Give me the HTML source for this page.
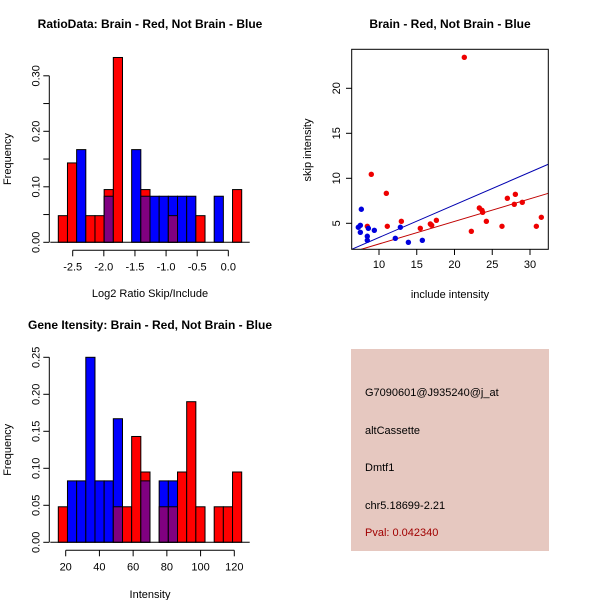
<!DOCTYPE html>
<html><head><meta charset="utf-8"><style>
body{margin:0;background:#fff}
svg{display:block;font-family:"Liberation Sans",sans-serif}
</style></head><body>
<svg id="c" width="600" height="600" xmlns="http://www.w3.org/2000/svg">
<rect width="600" height="600" fill="#fff"/>
<text x="150" y="28" font-size="12" font-weight="bold" text-anchor="middle">RatioData: Brain - Red, Not Brain - Blue</text>
<text x="450" y="28" font-size="12" font-weight="bold" text-anchor="middle">Brain - Red, Not Brain - Blue</text>
<text x="150" y="329" font-size="12" font-weight="bold" text-anchor="middle">Gene Itensity: Brain - Red, Not Brain - Blue</text>
<g>
<rect x="351" y="349" width="198" height="202" fill="#e6c8c0"/>
<text x="365" y="396" font-size="11">G7090601@J935240@j_at</text>
<text x="365" y="434" font-size="11">altCassette</text>
<text x="365" y="471" font-size="11">Dmtf1</text>
<text x="365" y="509" font-size="11">chr5.18699-2.21</text>
<text x="365" y="536" font-size="11" fill="#a00000">Pval: 0.042340</text>
</g>
</svg>
<script>
const ratioRed=[0.048,0.143,0,0.048,0.048,0.095,0.333,0,0,0.095,0,0,0.048,0,0,0.048,0,0,0,0.095];
const ratioBlue=[0,0,0.167,0,0,0.083,0,0,0.167,0.083,0.083,0.083,0.083,0.083,0.083,0,0,0.083,0,0];
const ratioXTicks=[-2.5,-2.0,-1.5,-1.0,-0.5,0.0];
const ratioYTicks=[0,0.05,0.10,0.15,0.20,0.25,0.30];
const intRed=[0.048,0,0,0,0,0,0.048,0.048,0.143,0.095,0,0.048,0.048,0.095,0.190,0.048,0,0.048,0.048,0.095];
const intBlue=[0,0.083,0.083,0.25,0.083,0.083,0.167,0,0,0.083,0,0.083,0.083,0,0,0,0,0,0,0];
const intXTicks=[20,40,60,80,100,120];
const intYTicks=[0,0.05,0.10,0.15,0.20,0.25];
const redX=[21.30,8.98,10.97,11.1,12.96,8.45,15.47,16.8,16.98,17.6,22.23,23.29,23.64,23.73,24.22,26.29,27.0,28.06,27.92,28.98,30.84,31.5];
const redY=[23.44,10.44,8.33,4.67,5.22,4.67,4.44,4.93,4.78,5.33,4.11,6.70,6.44,6.22,5.22,4.67,7.78,8.22,7.11,7.33,4.67,5.67];
const blueX=[7.66,7.26,7.53,7.53,8.45,8.45,8.59,9.38,12.16,12.83,13.89,15.74];
const blueY=[6.56,4.56,4.78,4.0,3.56,3.11,4.44,4.22,3.33,4.56,2.89,3.11];
const blueLine=[[6.38,2.11],[32.43,11.56]];
const redLine=[[7.62,2.11],[32.43,8.33]];
const scXTicks=[10,15,20,25,30];
const scYTicks=[5,10,15,20];

const svg=document.getElementById('c');
const NS='http://www.w3.org/2000/svg';
function mk(tag,at,parent){const e=document.createElementNS(NS,tag);for(const k in at)e.setAttribute(k,at[k]);(parent||svg).appendChild(e);return e;}

function hist(red,blue,xt,yt,o,name){
  const g=mk('g',{});
  
  
  const X=v=>o.x0+(v-o.xv0)*o.xs, Y=v=>o.y0-v*o.ys;
  const n=red.length;
  for(let i=0;i<n;i++){
    const x=o.bx+i*o.bw, r=red[i], b=blue[i], m=Math.min(r,b);
    if(r>b){const e=mk('rect',{x:x,y:Y(r),width:o.bw,height:Y(0)-Y(r),fill:'#ff0000',stroke:'#000','stroke-width':1},g);}
    if(b>r){const e=mk('rect',{x:x,y:Y(b),width:o.bw,height:Y(0)-Y(b),fill:'#0000ff',stroke:'#000','stroke-width':1},g);}
    if(m>0){const e=mk('rect',{x:x,y:Y(m),width:o.bw,height:Y(0)-Y(m),fill:'#800080',stroke:'#000','stroke-width':1},g);}
  }
  mk('line',{x1:o.bx-8,x2:o.bx+n*o.bw+8,y1:Y(0),y2:Y(0),stroke:'#000'},g);
  // y axis
  const ya=o.bx-8;
  mk('line',{x1:ya-1,x2:ya-1,y1:Y(yt[0]),y2:Y(yt[yt.length-1]),stroke:'#000'},g);
  yt.forEach((v,i)=>{const y=Y(v);mk('line',{x1:ya-7,x2:ya-1,y1:y,y2:y,stroke:'#000'},g);
    if(i%o.lblEvery==0){const t=mk('text',{x:0,y:0,'font-size':11,'text-anchor':'middle',transform:`translate(${ya-11},${y}) rotate(-90)`},g);t.textContent=v.toFixed(2);}});
  const xa=Y(0)+8;
  mk('line',{x1:X(xt[0]),x2:X(xt[xt.length-1]),y1:xa,y2:xa,stroke:'#000'},g);
  xt.forEach(v=>{const x=X(v);mk('line',{x1:x,x2:x,y1:xa,y2:xa+6,stroke:'#000'},g);
    const t=mk('text',{x:x,y:xa+20,'font-size':11,'text-anchor':'middle'},g);t.textContent=o.fmt(v);});
  const xl=mk('text',{x:150,y:o.xlY,'font-size':11,'text-anchor':'middle'},g);xl.textContent=o.xlabel;
  const yl=mk('text',{x:0,y:0,'font-size':11,'text-anchor':'middle',transform:`translate(11,${(Y(0)+Y(yt[yt.length-1]))/2}) rotate(-90)`},g);yl.textContent='Frequency';
}
hist(ratioRed,ratioBlue,ratioXTicks,ratioYTicks,{x0:72.7,xv0:-2.5,xs:62.25,y0:242.3,ys:555,bx:58.3,bw:9.17,lblEvery:2,fmt:v=>v.toFixed(1),xlabel:'Log2 Ratio Skip/Include',xlY:297},'ratio-histogram');
hist(intRed,intBlue,intXTicks,intYTicks,{x0:65.7,xv0:20,xs:1.686,y0:542.3,ys:740,bx:58.3,bw:9.17,lblEvery:1,fmt:v=>String(v),xlabel:'Intensity',xlY:598},'intensity-histogram');

// scatter
const sg=mk('g',{});


const SX=v=>379+(v-10)*7.55, SY=v=>223.3-(v-5)*9;
const clip=mk('clipPath',{id:'cp'},sg);mk('rect',{x:351.7,y:49.3,width:196.6,height:200},clip);
[[blueLine,'#0000b0','regression-blue'],[redLine,'#c00000','regression-red']].forEach(([l,c,nm])=>{
  const e=mk('line',{x1:SX(l[0][0]),y1:SY(l[0][1]),x2:SX(l[1][0]),y2:SY(l[1][1]),stroke:c,'stroke-width':1,'clip-path':'url(#cp)'},sg);
  });
redX.forEach((x,i)=>{const e=mk('circle',{cx:SX(x),cy:SY(redY[i]),r:2.7,fill:'#ee0000'},sg);});
blueX.forEach((x,i)=>{const e=mk('circle',{cx:SX(x),cy:SY(blueY[i]),r:2.7,fill:'#0000dd'},sg);});
mk('rect',{x:351.7,y:49.3,width:196.6,height:200,fill:'none',stroke:'#000'},sg);
scXTicks.forEach(v=>{const x=SX(v);mk('line',{x1:x,x2:x,y1:249.3,y2:255,stroke:'#000'},sg);const t=mk('text',{x:x,y:268,'font-size':11,'text-anchor':'middle'},sg);t.textContent=v;});
scYTicks.forEach(v=>{const y=SY(v);mk('line',{x1:346,x2:351.7,y1:y,y2:y,stroke:'#000'},sg);const t=mk('text',{x:0,y:0,'font-size':11,'text-anchor':'middle',transform:`translate(340,${y}) rotate(-90)`},sg);t.textContent=v;});
const sxl=mk('text',{x:450,y:298,'font-size':11,'text-anchor':'middle'},sg);sxl.textContent='include intensity';
const syl=mk('text',{x:0,y:0,'font-size':11,'text-anchor':'middle',transform:'translate(311,150) rotate(-90)'},sg);syl.textContent='skip intensity';
</script>
</body></html>
